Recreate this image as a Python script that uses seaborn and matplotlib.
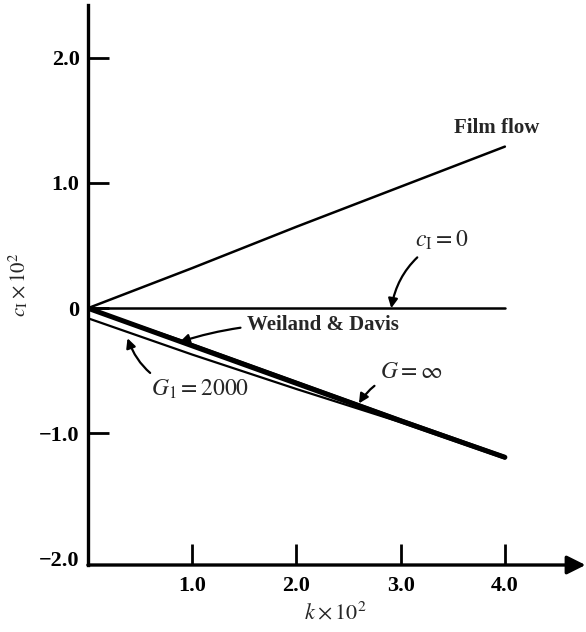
import numpy as np
import pandas as pd
import matplotlib
matplotlib.use("Agg")
import matplotlib.pyplot as plt
import seaborn as sns

# wavenumber k x 10^2 and growth rates c_I x 10^2
k = [0.0, 1.0, 2.0, 3.0, 4.0]
film_flow = [0.0, 0.32, 0.65, 0.97, 1.29]
zero_line = [0.0, 0.0, 0.0, 0.0, 0.0]
g_infinity = [0.0, -0.30, -0.60, -0.90, -1.19]
weiland_davis = [0.0, -0.285, -0.585, -0.885, -1.18]
g1_2000 = [-0.08, -0.37, -0.645, -0.91, -1.20]

x_ticks = [1.0, 2.0, 3.0, 4.0]
x_tick_labels = ["1.0", "2.0", "3.0", "4.0"]
y_ticks = [-2.0, -1.0, 0.0, 1.0, 2.0]
y_tick_labels = ["\u22122.0", "\u22121.0", "0", "1.0", "2.0"]

sns.set_theme(style="white")
plt.rcParams["font.family"] = ["Liberation Serif", "DejaVu Serif"]
plt.rcParams["mathtext.fontset"] = "stix"

fig = plt.figure(figsize=(5.86, 6.32), dpi=100)
ax = fig.add_axes([0.150, 0.106, 0.845, 0.886])

series = [
    (film_flow, 1.8),
    (zero_line, 1.8),
    (g1_2000, 1.6),
    (g_infinity, 3.6),
    (weiland_davis, 1.4),
]
for vals, lw in series:
    df = pd.DataFrame({"k": k, "c": vals})
    sns.lineplot(data=df, x="k", y="c", ax=ax, color="black", lw=lw,
                 solid_capstyle="round", legend=False)

ax.set_xlim(0, 4.75)
ax.set_ylim(-2.05, 2.42)

for side in ["top", "right", "bottom"]:
    ax.spines[side].set_visible(False)
ax.spines["left"].set_linewidth(2.4)
ax.spines["left"].set_color("black")

# horizontal axis drawn as an arrow
ax.annotate("", xy=(1.005, 0), xytext=(0, 0), xycoords="axes fraction",
            arrowprops=dict(arrowstyle="-|>", lw=2.4, color="black",
                            mutation_scale=28, shrinkA=0, shrinkB=0),
            annotation_clip=False)

ax.set_xticks(x_ticks)
ax.set_xticklabels(x_tick_labels)
ax.set_yticks(y_ticks)
ax.set_yticklabels(y_tick_labels)
ax.tick_params(axis="both", direction="in", length=15, width=2,
               color="black", labelsize=16, labelcolor="black",
               left=True, bottom=True)
ax.tick_params(axis="x", pad=8)
ax.tick_params(axis="y", pad=6)
# the -2.0 level sits on the horizontal axis and carries no tick mark
ax.yaxis.get_major_ticks()[0].tick1line.set_visible(False)
for lab in ax.get_xticklabels() + ax.get_yticklabels():
    lab.set_fontweight("bold")

ax.set_xlabel(r"$k \times 10^2$", fontsize=16, labelpad=4)
ax.set_ylabel(r"$c_{\mathrm{I}} \times 10^2$", fontsize=15, labelpad=6)

arrow_kw = dict(arrowstyle="-|>", lw=1.6, color="black", mutation_scale=14,
                shrinkA=2, shrinkB=0)

ax.text(3.92, 1.44, "Film flow", fontsize=15, fontweight="bold",
        ha="center", va="center")

ax.annotate(r"$c_{\mathrm{I}} = 0$", xy=(2.91, 0.0), xytext=(3.39, 0.54),
            fontsize=17, ha="center", va="center",
            arrowprops=dict(connectionstyle="arc3,rad=0.25", **arrow_kw))

ax.annotate("Weiland & Davis", xy=(0.88, -0.27), xytext=(2.25, -0.135),
            fontsize=15, fontweight="bold", ha="center", va="center",
            arrowprops=dict(connectionstyle="arc3,rad=0.1", **arrow_kw))

ax.annotate(r"$G_1 = 2000$", xy=(0.38, -0.24), xytext=(1.08, -0.65),
            fontsize=17, ha="center", va="center",
            arrowprops=dict(connectionstyle="arc3,rad=-0.35", **arrow_kw))

ax.annotate(r"$G = \infty$", xy=(2.6, -0.76), xytext=(3.1, -0.51),
            fontsize=17, ha="center", va="center",
            arrowprops=dict(connectionstyle="arc3,rad=0.25", **arrow_kw))

fig.savefig("out.png", dpi=100)
